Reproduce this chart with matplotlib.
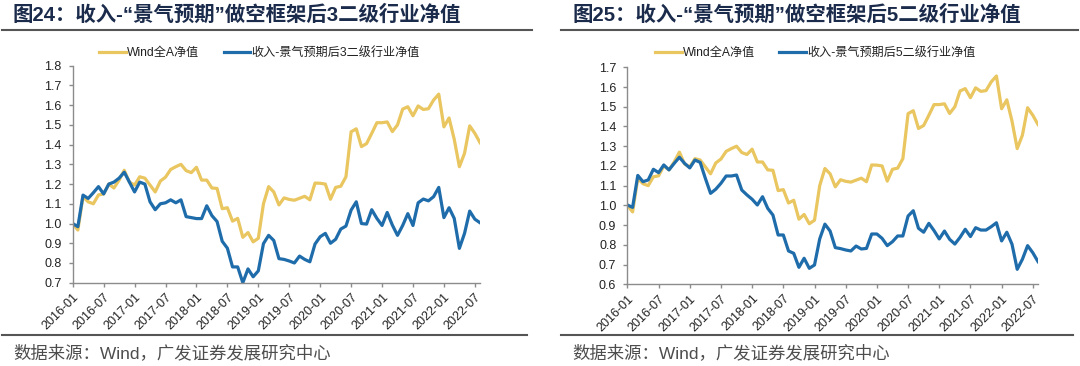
import numpy as np
import matplotlib
matplotlib.use('Agg')
import matplotlib.pyplot as plt
from matplotlib.lines import Line2D

plt.rcParams['font.family'] = ['Liberation Sans', 'Noto Sans CJK SC', 'DejaVu Sans']

# monthly net values, 2016-01 .. 2022-08
wind_a = [1.00, 0.967, 1.136, 1.11, 1.10, 1.145, 1.15, 1.20, 1.18, 1.22,
          1.27, 1.21, 1.195, 1.237, 1.23, 1.195, 1.16, 1.215, 1.235, 1.274,
          1.288, 1.30, 1.268, 1.258, 1.285, 1.22, 1.22, 1.18, 1.178, 1.075,
          1.08, 1.012, 1.026, 0.93, 0.954, 0.907, 0.925, 1.10, 1.187, 1.16,
          1.094, 1.13, 1.122, 1.118, 1.128, 1.138, 1.12, 1.205, 1.204, 1.20,
          1.123, 1.183, 1.189, 1.237, 1.465, 1.48, 1.39, 1.405, 1.457, 1.511,
          1.511, 1.515, 1.466, 1.50, 1.58, 1.592, 1.546, 1.596, 1.578, 1.582,
          1.626, 1.656, 1.49, 1.535, 1.427, 1.288, 1.356, 1.495, 1.457, 1.41]

short3 = [1.00, 0.984, 1.144, 1.127, 1.156, 1.187, 1.15, 1.20, 1.21, 1.23,
          1.26, 1.21, 1.16, 1.21, 1.20, 1.11, 1.07, 1.10, 1.105, 1.12,
          1.105, 1.12, 1.035, 1.03, 1.025, 1.025, 1.09, 1.04, 1.01, 0.91,
          0.875, 0.78, 0.78, 0.70, 0.77, 0.73, 0.76, 0.898, 0.94, 0.914,
          0.822, 0.818, 0.81, 0.80, 0.835, 0.818, 0.806, 0.896, 0.933, 0.95,
          0.90, 0.92, 0.972, 0.987, 1.068, 1.11, 1.00, 0.997, 1.07, 1.026,
          0.99, 1.056, 0.992, 0.94, 0.99, 1.05, 0.99, 1.105, 1.124, 1.115,
          1.136, 1.183, 1.03, 1.08, 1.026, 0.874, 0.95, 1.063, 1.022, 1.004]

short5 = [1.002, 0.99, 1.152, 1.12, 1.129, 1.183, 1.166, 1.205, 1.18, 1.213,
          1.244, 1.213, 1.19, 1.23, 1.218, 1.137, 1.061, 1.082, 1.112, 1.149,
          1.149, 1.154, 1.078, 1.053, 1.031, 1.002, 1.044, 0.985, 0.951, 0.85,
          0.85, 0.769, 0.757, 0.686, 0.732, 0.681, 0.698, 0.83, 0.905, 0.87,
          0.786, 0.781, 0.774, 0.769, 0.794, 0.779, 0.782, 0.855, 0.855, 0.833,
          0.796, 0.816, 0.845, 0.845, 0.946, 0.973, 0.884, 0.864, 0.909, 0.872,
          0.83, 0.87, 0.828, 0.804, 0.838, 0.879, 0.842, 0.887, 0.875, 0.875,
          0.892, 0.912, 0.82, 0.864, 0.803, 0.676, 0.727, 0.796, 0.76, 0.715]

tick_labels = ['2016-01', '2016-07', '2017-01', '2017-07', '2018-01', '2018-07',
               '2019-01', '2019-07', '2020-01', '2020-07', '2021-01', '2021-07',
               '2022-01', '2022-07']

titles = ['图24：收入-“景气预期”做空框架后3二级行业净值',
          '图25：收入-“景气预期”做空框架后5二级行业净值']
legend_names = ['收入-景气预期后3二级行业净值', '收入-景气预期后5二级行业净值']
source = '数据来源：Wind，广发证券发展研究中心'

YELLOW = '#E9C660'
BLUE = '#1F6CAB'
NAVY = '#1B2B4B'
GRAY = '#8C8C8C'

W, H = 1080, 366
fig = plt.figure(figsize=(W / 100, H / 100), dpi=100)


def fx(px):
    return px / W


def fy(py):
    return 1 - py / H


panels = [
    dict(ax=(72.7, 65.7, 480, 282.7), ylim=(0.7, 1.8), series=short3,
         title_x=13, rule=(2, 532), leg_x=0.459, leg_y=1.058),
    dict(ax=(627.4, 67.3, 1038, 284.3), ylim=(0.6, 1.7), series=short5,
         title_x=572, rule=(561, 1078), leg_x=0.458, leg_y=1.065),
]

x = np.arange(len(wind_a))

for i, p in enumerate(panels):
    l, t, r, b = p['ax']
    ax = fig.add_axes([fx(l), fy(b), fx(r - l), (b - t) / H])
    ax.plot(x, wind_a, color=YELLOW, lw=2.3, solid_joinstyle='round')
    ax.plot(x, p['series'], color=BLUE, lw=2.3, solid_joinstyle='round')
    ax.set_xlim(0, 79)
    ax.set_ylim(*p['ylim'])
    ax.set_yticks(np.round(np.arange(p['ylim'][0], p['ylim'][1] + 0.001, 0.1), 1))
    ax.yaxis.set_major_formatter(matplotlib.ticker.FormatStrFormatter('%.1f'))
    ax.set_xticks(np.arange(0, 79, 6))
    ax.set_xticklabels(tick_labels, rotation=45, ha='right', rotation_mode='anchor')
    for s in ['top', 'right']:
        ax.spines[s].set_visible(False)
    for s in ['left', 'bottom']:
        ax.spines[s].set_color(GRAY)
        ax.spines[s].set_linewidth(1)
    ax.tick_params(axis='both', colors=GRAY, labelcolor='#222222', length=3,
                   width=1, labelsize=9, direction='out')
    ax.tick_params(axis='y', pad=5)
    ax.tick_params(axis='x', pad=3)

    handles = [Line2D([], [], color=YELLOW, lw=2.3),
               Line2D([], [], color=BLUE, lw=2.3)]
    leg = ax.legend(handles, ['Wind全A净值', legend_names[i]], ncol=2, frameon=False,
                    loc='center', bbox_to_anchor=(p['leg_x'], p['leg_y']),
                    fontsize=8.7, handlelength=2.2, handletextpad=0.1,
                    columnspacing=2.0, borderaxespad=0)
    for txt in leg.get_texts():
        txt.set_color('#222222')

    # title, rules and source
    fig.text(fx(p['title_x']), fy(15), titles[i], fontsize=14.7, fontweight='bold',
             color=NAVY, va='center', ha='left')
    x0, x1 = p['rule']
    fig.add_artist(Line2D([fx(x0), fx(x1)], [fy(29.5), fy(29.5)],
                          color='#555555', lw=1.5))
    fig.add_artist(Line2D([fx(x0), fx(x1 - 5)], [fy(335), fy(335)],
                          color='#555555', lw=1.5))
    fig.text(fx(p['title_x']), fy(353), source, fontsize=12.5, color='#4D4D4D',
             va='center', ha='left')

fig.savefig('out.png', dpi=100)
